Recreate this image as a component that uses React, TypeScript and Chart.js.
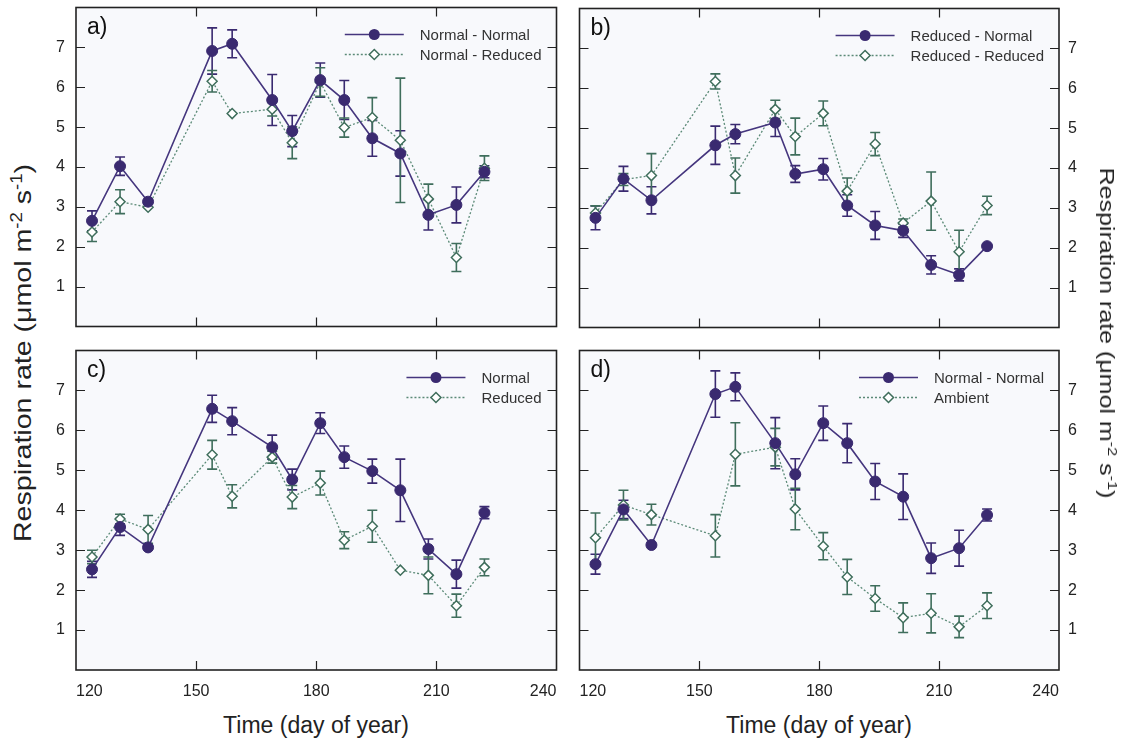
import React, { useEffect, useRef } from 'react';
import { Chart, registerables } from 'chart.js';

Chart.register(...registerables);

// ---------- data ----------
const days = [124, 131, 138, 154, 159, 169, 174, 181, 187, 194, 201, 208, 215, 222];
const xTickValues = [120, 150, 180, 210, 240];
const yTickValues = [1, 2, 3, 4, 5, 6, 7];

// panel a / d : Normal - Normal
const normalNormal = [2.65, 4.02, 3.13, 6.91, 7.09, 5.68, 4.9, 6.18, 5.68, 4.72, 4.34, 2.8, 3.05, 3.88];
const normalNormalErr = [0.25, 0.23, 0, 0.58, 0.35, 0.64, 0.39, 0.43, 0.49, 0.45, 0.57, 0.38, 0.45, 0.15];
// panel a : Normal - Reduced
const normalReduced = [2.37, 3.13, 2.99, 6.15, 5.34, 5.45, 4.61, 6.13, 4.99, 5.24, 4.67, 3.2, 1.73, 3.97];
const normalReducedErr = [0.24, 0.3, 0, 0.27, 0, 0.17, 0.4, 0.36, 0.24, 0.5, 1.56, 0.37, 0.35, 0.31];
// panel b : Reduced - Normal
const reducedNormal = [2.75, 3.73, 3.19, 4.57, 4.85, 5.14, 3.85, 3.97, 3.06, 2.56, 2.43, 1.57, 1.32, 2.04];
const reducedNormalErr = [0.3, 0.31, 0.34, 0.48, 0.24, 0.35, 0.21, 0.27, 0.27, 0.35, 0.17, 0.23, 0.15, 0];
// panel b : Reduced - Reduced
const reducedReduced = [2.87, 3.71, 3.81, 6.17, 3.81, 5.47, 4.79, 5.37, 3.42, 4.6, 2.62, 3.17, 1.9, 3.06];
const reducedReducedErr = [0.18, 0.15, 0.55, 0.19, 0.44, 0.23, 0.46, 0.31, 0.33, 0.29, 0.1, 0.73, 0.54, 0.23];
// panel c : Normal
const normal = [2.52, 3.58, 3.07, 6.54, 6.23, 5.58, 4.77, 6.18, 5.33, 4.98, 4.5, 3.03, 2.4, 3.94];
const normalErr = [0.2, 0.21, 0, 0.34, 0.34, 0.3, 0.26, 0.26, 0.28, 0.3, 0.78, 0.25, 0.35, 0.15];
// panel c : Reduced
const reduced = [2.83, 3.78, 3.52, 5.39, 4.35, 5.33, 4.33, 4.68, 3.25, 3.6, 2.5, 2.37, 1.61, 2.57];
const reducedErr = [0.17, 0.12, 0.35, 0.36, 0.29, 0.15, 0.29, 0.3, 0.21, 0.4, 0, 0.46, 0.29, 0.21];
// panel d : Ambient
const ambient = [3.31, 4.13, 3.89, 3.36, 5.4, 5.58, 4.03, 3.1, 2.33, 1.79, 1.31, 1.42, 1.08, 1.61];
const ambientErr = [0.62, 0.37, 0.26, 0.53, 0.79, 0.47, 0.52, 0.34, 0.44, 0.32, 0.37, 0.49, 0.27, 0.32];

// ---------- styling ----------
const FONT = "'Liberation Sans', Arial, Helvetica, sans-serif";
const PURPLE = '#3a2a70';
const PURPLE_LINE = '#45367e';
const GREEN = '#3f6e5c';
const GREEN_LINE = '#5b8a77';
const PLOT_BG = '#f8f9fc';
const FRAME = '#222222';
const TEXT = '#222222';

type PanelProps = {
  letter: string;
  labels: [string, string];
  s1: number[];
  e1: number[];
  s2: number[];
  e2: number[];
  plotLeft: number;
  plotTop: number;
  plotWidth: number;
  plotHeight: number;
  yPos: 'left' | 'right';
  xLabels: boolean;
};

const AXIS_W = 40;
const PAD = 6;
const XLAB_H = 40;

function decorPlugin(letter: string) {
  return {
    id: 'decor',
    beforeDraw(chart: any) {
      const { ctx, chartArea: a } = chart;
      ctx.save();
      ctx.fillStyle = PLOT_BG;
      ctx.fillRect(a.left, a.top, a.right - a.left, a.bottom - a.top);
      ctx.restore();
    },
    beforeDatasetsDraw(chart: any) {
      const ctx = chart.ctx;
      const ys = chart.scales.y;
      chart.data.datasets.forEach((ds: any, di: number) => {
        const meta = chart.getDatasetMeta(di);
        ctx.save();
        ctx.strokeStyle = ds.errColor;
        ctx.lineWidth = 1.6;
        ctx.setLineDash([]);
        meta.data.forEach((pt: any, i: number) => {
          const e = ds.errors[i];
          if (!e) return;
          const v = ds.data[i].y;
          const y1 = ys.getPixelForValue(v + e);
          const y2 = ys.getPixelForValue(v - e);
          const x = pt.x;
          ctx.beginPath();
          ctx.moveTo(x, y1);
          ctx.lineTo(x, y2);
          ctx.moveTo(x - 5, y1);
          ctx.lineTo(x + 5, y1);
          ctx.moveTo(x - 5, y2);
          ctx.lineTo(x + 5, y2);
          ctx.stroke();
        });
        ctx.restore();
      });
    },
    afterDraw(chart: any) {
      const { ctx, chartArea: a } = chart;
      const xs = chart.scales.x;
      const ys = chart.scales.y;
      ctx.save();
      // inward ticks
      ctx.strokeStyle = FRAME;
      ctx.lineWidth = 1.2;
      ctx.setLineDash([]);
      const TL = 9;
      xTickValues.forEach((v) => {
        if (v === xs.min || v === xs.max) return;
        const x = Math.round(xs.getPixelForValue(v)) + 0.5;
        ctx.beginPath();
        ctx.moveTo(x, a.top);
        ctx.lineTo(x, a.top + TL);
        ctx.moveTo(x, a.bottom);
        ctx.lineTo(x, a.bottom - TL);
        ctx.stroke();
      });
      yTickValues.forEach((v) => {
        const y = Math.round(ys.getPixelForValue(v)) + 0.5;
        ctx.beginPath();
        ctx.moveTo(a.left, y);
        ctx.lineTo(a.left + TL, y);
        ctx.moveTo(a.right, y);
        ctx.lineTo(a.right - TL, y);
        ctx.stroke();
      });
      // frame
      ctx.lineWidth = 1.6;
      ctx.strokeRect(a.left, a.top, a.right - a.left, a.bottom - a.top);

      // legend
      ctx.font = `15px ${FONT}`;
      const dss = chart.data.datasets;
      let maxW = 0;
      dss.forEach((ds: any) => {
        maxW = Math.max(maxW, ctx.measureText(ds.label).width);
      });
      const textX = a.right - 15 - maxW;
      const lineEnd = textX - 16;
      const lineStart = lineEnd - 59;
      const mid = (lineStart + lineEnd) / 2;
      dss.forEach((ds: any, i: number) => {
        const y = a.top + 27 + i * 20;
        ctx.strokeStyle = ds.borderColor;
        ctx.lineWidth = ds.borderWidth;
        ctx.setLineDash(ds.borderDash || []);
        ctx.beginPath();
        ctx.moveTo(lineStart, y);
        ctx.lineTo(lineEnd, y);
        ctx.stroke();
        ctx.setLineDash([]);
        const r = ds.pointRadius;
        ctx.beginPath();
        if (ds.pointStyle === 'circle') {
          ctx.arc(mid, y, r, 0, Math.PI * 2);
          ctx.fillStyle = ds.pointBackgroundColor;
          ctx.fill();
        } else {
          ctx.moveTo(mid, y - r);
          ctx.lineTo(mid + r, y);
          ctx.lineTo(mid, y + r);
          ctx.lineTo(mid - r, y);
          ctx.closePath();
          ctx.fillStyle = ds.pointBackgroundColor;
          ctx.fill();
          ctx.lineWidth = ds.pointBorderWidth;
          ctx.strokeStyle = ds.pointBorderColor;
          ctx.stroke();
        }
        ctx.fillStyle = '#333333';
        ctx.textBaseline = 'middle';
        ctx.textAlign = 'left';
        ctx.fillText(ds.label, textX, y + 1);
      });

      // panel letter
      ctx.font = `23px ${FONT}`;
      ctx.fillStyle = '#111111';
      ctx.textBaseline = 'alphabetic';
      ctx.textAlign = 'left';
      ctx.fillText(letter, a.left + 11, a.top + 26);
      ctx.restore();
    },
  };
}

function zeroPadding(s: any) {
  s.paddingTop = 0;
  s.paddingBottom = 0;
  s.paddingLeft = 0;
  s.paddingRight = 0;
}

function Panel(p: PanelProps) {
  const ref = useRef<HTMLCanvasElement | null>(null);
  const padL = p.yPos === 'left' ? 0 : PAD;
  const padR = p.yPos === 'right' ? 0 : PAD;
  const bottomH = p.xLabels ? XLAB_H : PAD;
  const cw = AXIS_W + p.plotWidth + PAD;
  const ch = PAD + p.plotHeight + bottomH;
  const cl = p.yPos === 'left' ? p.plotLeft - AXIS_W : p.plotLeft - PAD;
  const ct = p.plotTop - PAD;

  useEffect(() => {
    if (!ref.current) return;
    const tickFont = { family: FONT, size: 16 };
    const chart = new Chart(ref.current, {
      type: 'line',
      data: {
        datasets: [
          {
            label: p.labels[0],
            data: days.map((d, i) => ({ x: d, y: p.s1[i] })),
            borderColor: PURPLE_LINE,
            backgroundColor: PURPLE,
            borderWidth: 1.6,
            pointStyle: 'circle',
            pointRadius: 5.5,
            pointBackgroundColor: PURPLE,
            pointBorderColor: PURPLE,
            pointBorderWidth: 1,
            tension: 0,
            errors: p.e1,
            errColor: PURPLE,
          } as any,
          {
            label: p.labels[1],
            data: days.map((d, i) => ({ x: d, y: p.s2[i] })),
            borderColor: GREEN_LINE,
            backgroundColor: '#ffffff',
            borderWidth: 1.3,
            borderDash: [2, 2],
            pointStyle: 'rectRot',
            pointRadius: 5,
            pointBackgroundColor: '#ffffff',
            pointBorderColor: GREEN,
            pointBorderWidth: 1.5,
            tension: 0,
            errors: p.e2,
            errColor: GREEN,
          } as any,
        ],
      },
      options: {
        animation: false,
        responsive: false,
        maintainAspectRatio: false,
        layout: { padding: { left: padL, right: padR, top: PAD, bottom: 0 } },
        plugins: { legend: { display: false }, tooltip: { enabled: false } },
        scales: {
          x: {
            type: 'linear',
            min: 120,
            max: 240,
            afterBuildTicks: (s: any) => {
              s.ticks = xTickValues.map((v) => ({ value: v }));
            },
            afterFit: (s: any) => {
              s.height = bottomH;
              zeroPadding(s);
            },
            grid: { display: false, drawTicks: false },
            border: { display: false },
            ticks: {
              display: p.xLabels,
              font: tickFont,
              color: TEXT,
              padding: 12,
              align: 'inner',
              maxRotation: 0,
              autoSkip: false,
            },
          },
          y: {
            type: 'linear',
            position: p.yPos,
            min: 0,
            max: 8,
            afterBuildTicks: (s: any) => {
              s.ticks = yTickValues.map((v) => ({ value: v }));
            },
            afterFit: (s: any) => {
              s.width = AXIS_W;
              zeroPadding(s);
            },
            grid: { display: false, drawTicks: false },
            border: { display: false },
            ticks: { font: tickFont, color: TEXT, padding: p.yPos === 'left' ? 11 : 9 },
          },
        },
      } as any,
      plugins: [decorPlugin(p.letter)],
    });
    return () => chart.destroy();
  }, []);

  return (
    <canvas
      ref={ref}
      width={cw}
      height={ch}
      style={{ position: 'absolute', left: cl, top: ct, width: cw, height: ch }}
    />
  );
}

const unitSup = (
  <>
    Respiration rate (μmol m<sup style={{ fontSize: '0.65em' }}>-2</sup> s<sup style={{ fontSize: '0.65em' }}>-1</sup>)
  </>
);

export default function App() {
  const titleBase: React.CSSProperties = {
    position: 'absolute',
    whiteSpace: 'nowrap',
    fontFamily: FONT,
    color: TEXT,
    lineHeight: 1,
  };
  return (
    <div style={{ position: 'absolute', left: 0, top: 0, width: 1131, height: 742, background: '#ffffff', overflow: 'hidden' }}>
      <Panel letter="a)" labels={['Normal - Normal', 'Normal - Reduced']} s1={normalNormal} e1={normalNormalErr} s2={normalReduced} e2={normalReducedErr} plotLeft={76} plotTop={7} plotWidth={481} plotHeight={320} yPos="left" xLabels={false} />
      <Panel letter="b)" labels={['Reduced - Normal', 'Reduced - Reduced']} s1={reducedNormal} e1={reducedNormalErr} s2={reducedReduced} e2={reducedReducedErr} plotLeft={579} plotTop={8} plotWidth={480} plotHeight={320} yPos="right" xLabels={false} />
      <Panel letter="c)" labels={['Normal', 'Reduced']} s1={normal} e1={normalErr} s2={reduced} e2={reducedErr} plotLeft={76} plotTop={350} plotWidth={481} plotHeight={320} yPos="left" xLabels={true} />
      <Panel letter="d)" labels={['Normal - Normal', 'Ambient']} s1={normalNormal} e1={normalNormalErr} s2={ambient} e2={ambientErr} plotLeft={579} plotTop={350} plotWidth={480} plotHeight={320} yPos="right" xLabels={true} />

      <div style={{ ...titleBase, fontSize: 24, left: 22, top: 353, transform: 'translate(-50%, -50%) rotate(-90deg) scaleX(1.19)' }}>{unitSup}</div>
      <div style={{ ...titleBase, fontSize: 21, left: 1108, top: 333, transform: 'translate(-50%, -50%) rotate(90deg) scaleX(1.19)' }}>{unitSup}</div>

      <div style={{ ...titleBase, fontSize: 23, left: 316, top: 725, transform: 'translate(-50%, -50%)' }}>Time (day of year)</div>
      <div style={{ ...titleBase, fontSize: 23, left: 819, top: 725, transform: 'translate(-50%, -50%)' }}>Time (day of year)</div>
    </div>
  );
}
